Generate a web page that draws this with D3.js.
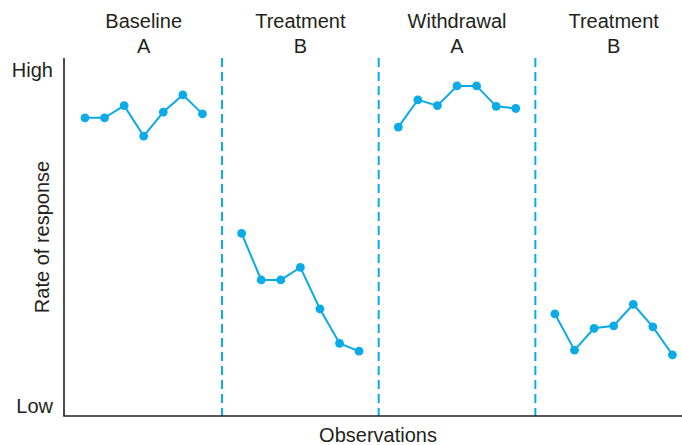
<!DOCTYPE html>
<html>
<head>
<meta charset="utf-8">
<script src="https://cdn.jsdelivr.net/npm/d3@7"></script>
<style>
  html, body { margin: 0; padding: 0; background: #fff; }
  svg { display: block; font-family: "Liberation Sans", Arial, Helvetica, sans-serif; }
</style>
</head>
<body>
<svg id="chart" width="682" height="445"></svg>
<script>
// Phases of the A-B-A-B design (title, condition letter)
const phaseTitles = ["Baseline", "Treatment", "Withdrawal", "Treatment"];
const phaseLetters = ["A", "B", "A", "B"];

// Observations per phase (session index inside the phase: 1..7)
const sessions = [1, 2, 3, 4, 5, 6, 7];

// Rate of response per phase, 0 = low, 100 = high
const baselineA   = [83.3, 83.3, 86.7, 78.2, 84.9, 89.7, 84.4];
const treatmentB1 = [51.0, 38.0, 38.0, 41.5, 29.9, 20.3, 18.1];
const withdrawalA = [80.7, 88.3, 86.7, 92.2, 92.2, 86.5, 85.9];
const treatmentB2 = [28.5, 18.4, 24.5, 25.2, 31.2, 24.9, 17.1];
const phaseValues = [baselineA, treatmentB1, withdrawalA, treatmentB2];

// Y axis end labels
const yTickLabels = ["Low", "High"];
const yTickValues = [0, 100];

const phaseLength = 8;          // session units per phase
const color = "#0aabe6";
const ink = "#231f20";

const svg = d3.select("#chart");
const plotLeft = 64, plotRight = 692, plotTop = 58, plotBottom = 416;

const x = d3.scaleLinear()
  .domain([-0.07, phaseLength * phaseTitles.length])
  .range([plotLeft, plotRight]);
const y = d3.scaleLinear().domain([0, 100]).range([plotBottom, plotTop]);

// Phase boundaries (dashed)
const boundaries = d3.range(1, phaseTitles.length).map(i => i * phaseLength);
svg.append("g").selectAll("line")
  .data(boundaries)
  .join("line")
  .attr("x1", d => x(d)).attr("x2", d => x(d))
  .attr("y1", plotTop).attr("y2", plotBottom)
  .attr("stroke", color)
  .attr("stroke-width", 2)
  .attr("stroke-dasharray", "9,5");

// Axes: plain lines with end labels only
svg.append("line")
  .attr("x1", plotLeft).attr("x2", plotLeft)
  .attr("y1", plotTop).attr("y2", plotBottom)
  .attr("stroke", ink).attr("stroke-width", 1.6);
svg.append("line")
  .attr("x1", plotLeft - 0.8).attr("x2", 682)
  .attr("y1", plotBottom).attr("y2", plotBottom)
  .attr("stroke", ink).attr("stroke-width", 1.6);

svg.append("g").selectAll("text")
  .data(yTickValues)
  .join("text")
  .attr("x", 53)
  .attr("y", (d, i) => i === 0 ? y(d) - 3 : y(d) + 19)
  .attr("text-anchor", "end")
  .attr("font-size", 20)
  .attr("fill", ink)
  .text((d, i) => yTickLabels[i]);

// Axis titles
svg.append("text")
  .attr("transform", `translate(49,${(plotTop + plotBottom) / 2}) rotate(-90)`)
  .attr("text-anchor", "middle")
  .attr("font-size", 20)
  .attr("fill", ink)
  .text("Rate of response");

svg.append("text")
  .attr("x", (plotLeft + plotRight) / 2)
  .attr("y", 441.5)
  .attr("text-anchor", "middle")
  .attr("font-size", 20)
  .attr("fill", ink)
  .text("Observations");

// Phase headings
const heads = svg.append("g").selectAll("g")
  .data(phaseTitles)
  .join("g")
  .attr("transform", (d, i) => `translate(${x(i * phaseLength + phaseLength / 2)},0)`);
heads.append("text")
  .attr("y", 28).attr("text-anchor", "middle")
  .attr("font-size", 20).attr("fill", ink)
  .text(d => d);
heads.append("text")
  .attr("y", 53).attr("text-anchor", "middle")
  .attr("font-size", 20).attr("fill", ink)
  .text((d, i) => phaseLetters[i]);

// Data series, one line per phase
const line = d3.line().x(d => x(d.s)).y(d => y(d.v));
phaseValues.forEach((vals, p) => {
  const pts = vals.map((v, i) => ({ s: p * phaseLength + sessions[i], v }));
  const g = svg.append("g");
  g.append("path")
    .datum(pts)
    .attr("d", line)
    .attr("fill", "none")
    .attr("stroke", color)
    .attr("stroke-width", 2);
  g.selectAll("circle")
    .data(pts)
    .join("circle")
    .attr("cx", d => x(d.s))
    .attr("cy", d => y(d.v))
    .attr("r", 4.4)
    .attr("fill", color);
});
</script>
</body>
</html>
